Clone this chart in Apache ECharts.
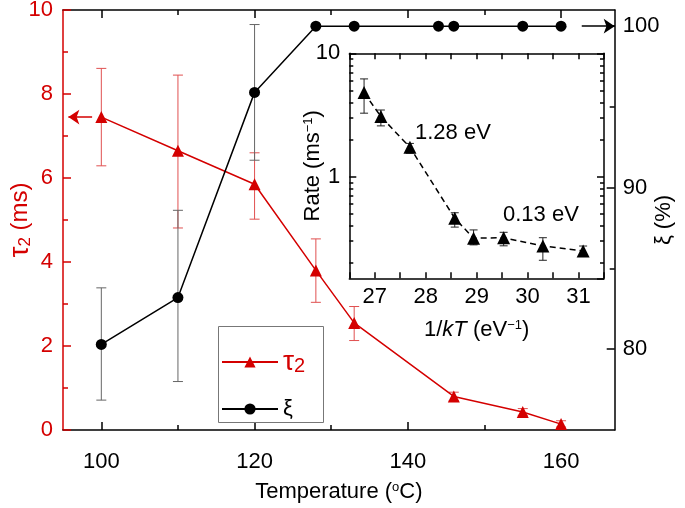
<!DOCTYPE html>
<html><head><meta charset="utf-8">
<script src="https://cdn.jsdelivr.net/npm/echarts@6/dist/echarts.min.js"></script>
<style>html,body{margin:0;padding:0;background:#fff}#c{width:685px;height:508px}</style>
</head><body><div id="c"></div>
<script>
// ---- main plot data ----
const tauTemps = [100, 110, 120, 128, 133, 146, 155, 160];
const tauVals  = [7.45, 6.65, 5.85, 3.8, 2.55, 0.8, 0.43, 0.14];
const tauLow   = [6.29, 4.81, 5.02, 3.04, 2.13, 0.7, 0.35, 0.07];
const tauHigh  = [8.61, 8.45, 6.6, 4.55, 2.94, 0.9, 0.51, 0.22];

const xiTemps = [100, 110, 120, 128, 133, 144, 146, 155, 160];
const xiVals  = [80.3, 83.2, 95.9, 100, 100, 100, 100, 100, 100];
const xiErrTemps = [100, 110, 120];
const xiLow   = [76.85, 78.0, 91.7];
const xiHigh  = [83.8, 88.6, 100.1];

// ---- inset data ----
const invKT    = [26.79, 27.12, 27.69, 28.57, 28.94, 29.53, 30.3, 31.09];
const rate     = [4.8, 3.07, 1.73, 0.46, 0.317, 0.32, 0.274, 0.25];
const rateLow  = [3.27, 2.58, 1.55, 0.39, 0.28, 0.275, 0.21, 0.23];
const rateHigh = [6.2, 3.47, 1.86, 0.51, 0.37, 0.354, 0.32, 0.274];

// ---- tick labels ----
const tempLabels = [100, 120, 140, 160];
const tempMinor  = [110, 130, 150];
const xiLabels   = [80, 90, 100];
const xiMinor    = [85, 95];
const rateMinor  = [0.2,0.3,0.4,0.5,0.6,0.7,0.8,0.9,2,3,4,5,6,7,8,9];

const RED = '#d40000';
const FONT = '"Liberation Sans", Arial, sans-serif';
const FS = 22;

function errRender(color, cap) {
  return function (params, api) {
    const x = api.value(0), lo = api.value(1), hi = api.value(2);
    const a = api.coord([x, lo]), b = api.coord([x, hi]);
    const st = { stroke: color, lineWidth: 1 };
    return { type: 'group', children: [
      { type: 'line', shape: { x1: a[0], y1: a[1], x2: b[0], y2: b[1] }, style: st },
      { type: 'line', shape: { x1: a[0]-cap, y1: a[1], x2: a[0]+cap, y2: a[1] }, style: st },
      { type: 'line', shape: { x1: b[0]-cap, y1: b[1], x2: b[0]+cap, y2: b[1] }, style: st }
    ]};
  };
}

const axLine = (c) => ({ show: true, onZero: false, lineStyle: { color: c || '#000', width: 1.5 } });
const noLine = { show: false, onZero: false };
const tick = (len, c, vals) => {
  const t = { show: true, inside: true, length: len, lineStyle: { color: c || '#000', width: 1.5 } };
  if (vals) t.customValues = vals;
  return t;
};
const lbl = (extra) => Object.assign({ fontFamily: FONT, fontSize: FS, color: '#000' }, extra || {});

const chart = echarts.init(document.getElementById('c'), null, { renderer: 'canvas' });
const option = {
  animation: false,
  backgroundColor: '#fff',
  textStyle: { fontFamily: FONT },
  grid: [
    { left: 63, top: 10, right: 70.3, bottom: 78, outerBoundsMode: 'none', containLabel: false },
    { left: 349.3, top: 53.3, width: 254.7, height: 225, outerBoundsMode: 'none', containLabel: false,
      show: true, backgroundColor: '#fff', borderWidth: 0, z: 5 }
  ],
  xAxis: [
    { // 0 main bottom
      type: 'value', gridIndex: 0, min: 95, max: 167, position: 'bottom',
      axisLine: axLine(), axisTick: tick(8, '#000', tempLabels),
      axisLabel: lbl({ customValues: tempLabels, margin: 21 }), splitLine: { show: false },
      name: 'Temperature ({o|o}C)', nameLocation: 'middle', nameGap: 51, nameMoveOverlap: false,
      nameTextStyle: { fontFamily: FONT, fontSize: FS, color: '#000',
        rich: { o: { fontSize: 13, verticalAlign: 'top', lineHeight: 13 } } }
    },
    { // 1 main bottom minor
      type: 'value', gridIndex: 0, min: 95, max: 167, position: 'bottom',
      axisLine: noLine, axisTick: tick(5, '#000', tempMinor), axisLabel: { show: false }, splitLine: { show: false }
    },
    { // 2 main top
      type: 'value', gridIndex: 0, min: 95, max: 167, position: 'top',
      axisLine: axLine(), axisTick: tick(8, '#000', tempLabels), axisLabel: { show: false }, splitLine: { show: false }
    },
    { // 3 main top minor
      type: 'value', gridIndex: 0, min: 95, max: 167, position: 'top',
      axisLine: noLine, axisTick: tick(5, '#000', tempMinor), axisLabel: { show: false }, splitLine: { show: false }
    },
    { // 4 inset bottom
      type: 'value', gridIndex: 1, min: 26.5, max: 31.5, interval: 0.5, position: 'bottom', z: 10,
      axisLine: axLine(), axisTick: tick(6), splitLine: { show: false },
      axisLabel: lbl({ margin: 8, formatter: v => (Math.abs(v - Math.round(v)) < 1e-6 ? String(Math.round(v)) : '') }),
      name: '1/{i|kT} (eV{s|−1})', nameLocation: 'middle', nameGap: 41, nameMoveOverlap: false,
      nameTextStyle: { fontFamily: FONT, fontSize: FS, color: '#000',
        rich: { i: { fontStyle: 'italic', fontSize: FS }, s: { fontSize: 13, verticalAlign: 'top', lineHeight: 13 } } }
    },
    { // 5 inset top
      type: 'value', gridIndex: 1, min: 26.5, max: 31.5, interval: 0.5, position: 'top', z: 10,
      axisLine: axLine(), axisTick: tick(6), axisLabel: { show: false }, splitLine: { show: false }
    }
  ],
  yAxis: [
    { // 0 tau left
      type: 'value', gridIndex: 0, min: 0, max: 10, interval: 2, position: 'left',
      axisLine: axLine(RED), axisTick: tick(8, RED),
      minorTick: { show: true, splitNumber: 2, length: 5, lineStyle: { color: RED, width: 1.5 } },
      axisLabel: lbl({ color: RED, margin: 10 }), splitLine: { show: false }, minorSplitLine: { show: false },
      name: '{t|τ}{s|2}{n| (ms)}', nameLocation: 'middle', nameGap: 29, nameRotate: 90, nameMoveOverlap: false,
      nameTextStyle: { color: RED, fontFamily: FONT, fontSize: 24,
        rich: { t: { fontSize: 28, color: RED }, s: { fontSize: 17, color: RED, verticalAlign: 'bottom', lineHeight: 12 }, n: { fontSize: 24, color: RED } } }
    },
    { // 1 xi right
      type: 'value', gridIndex: 0, min: 75, max: 101, position: 'right',
      axisLine: axLine(), axisTick: tick(8, '#000', xiLabels),
      axisLabel: lbl({ customValues: xiLabels, margin: 8 }), splitLine: { show: false },
      name: 'ξ (%)', nameLocation: 'middle', nameGap: 38, nameRotate: 90, nameMoveOverlap: false,
      nameTextStyle: { fontFamily: FONT, fontSize: FS, color: '#000' }
    },
    { // 2 xi right minor
      type: 'value', gridIndex: 0, min: 75, max: 101, position: 'right',
      axisLine: noLine, axisTick: tick(5, '#000', xiMinor), axisLabel: { show: false }, splitLine: { show: false }
    },
    { // 3 inset left log
      type: 'log', gridIndex: 1, min: 0.15, max: 10, logBase: 10, position: 'left', z: 10,
      axisLine: axLine(), axisTick: tick(7), splitLine: { show: false },
      axisLabel: lbl({ margin: 9, showMinLabel: false }),
      name: 'Rate (ms{s|−1})', nameLocation: 'middle', nameGap: 25, nameRotate: 90, nameMoveOverlap: false,
      nameTextStyle: { fontFamily: FONT, fontSize: FS, color: '#000',
        rich: { s: { fontSize: 13, verticalAlign: 'top', lineHeight: 13 } } }
    },
    { // 4 inset left minor (log10 space)
      type: 'value', gridIndex: 1, min: Math.log10(0.15), max: 1, position: 'left', z: 10,
      axisLine: noLine, axisTick: tick(4, '#000', rateMinor.map(Math.log10)), axisLabel: { show: false }, splitLine: { show: false }
    },
    { // 5 inset right log
      type: 'log', gridIndex: 1, min: 0.15, max: 10, logBase: 10, position: 'right', z: 10,
      axisLine: axLine(), axisTick: tick(7), axisLabel: { show: false }, splitLine: { show: false }
    },
    { // 6 inset right minor
      type: 'value', gridIndex: 1, min: Math.log10(0.15), max: 1, position: 'right', z: 10,
      axisLine: noLine, axisTick: tick(4, '#000', rateMinor.map(Math.log10)), axisLabel: { show: false }, splitLine: { show: false }
    }
  ],
  legend: {
    left: 218, top: 327, orient: 'vertical',
    itemWidth: 56, itemHeight: 14, itemGap: 22,
    padding: [21, 20, 0, 3],
    borderWidth: 0, backgroundColor: 'transparent', z: 6,
    data: [{ name: 'tau', textStyle: { color: RED } }, { name: 'xi' }],
    formatter: n => (n === 'tau' ? '{t|τ}{s|2}' : '{x|ξ}'),
    textStyle: { fontFamily: FONT, fontSize: FS,
      rich: { t: { fontSize: 28, color: RED }, s: { fontSize: 20, color: RED, verticalAlign: 'bottom', lineHeight: 14 }, x: { fontSize: 22, color: '#000' } } }
  },
  graphic: [
    { type: 'rect', z: 4, shape: { x: 218.5, y: 326.5, width: 105, height: 96 },
      style: { fill: '#fff', stroke: '#777', lineWidth: 1 } },
    { type: 'text', x: 415, y: 133, z: 100, style: { text: '1.28 eV', font: '22px "Liberation Sans", Arial', fill: '#000', verticalAlign: 'middle' } },
    { type: 'text', x: 503, y: 215, z: 100, style: { text: '0.13 eV', font: '22px "Liberation Sans", Arial', fill: '#000', verticalAlign: 'middle' } }
  ],
  series: [
    { type: 'custom', name: 'tauErr', xAxisIndex: 0, yAxisIndex: 0, z: 1, silent: true,
      renderItem: errRender('#e05050', 5), encode: { x: 0, y: [1, 2] },
      data: tauTemps.map((t, i) => [t, tauLow[i], tauHigh[i]]) },
    { type: 'custom', name: 'xiErr', xAxisIndex: 0, yAxisIndex: 1, z: 1, silent: true,
      renderItem: errRender('#666', 5), encode: { x: 0, y: [1, 2] },
      data: xiErrTemps.map((t, i) => [t, xiLow[i], xiHigh[i]]) },
    { type: 'line', name: 'tau', xAxisIndex: 0, yAxisIndex: 0, z: 3,
      data: tauTemps.map((t, i) => [t, tauVals[i]]),
      symbol: 'triangle', symbolSize: 12, showAllSymbol: true,
      itemStyle: { color: RED }, lineStyle: { color: RED, width: 1.5 },
      markLine: { silent: true, symbol: ['none', 'arrow'], symbolSize: 11, label: { show: false },
        lineStyle: { color: RED, width: 1.5, type: 'solid' },
        data: [[{ coord: [98.8, 7.45] }, { coord: [95.7, 7.45] }]] } },
    { type: 'line', name: 'xi', xAxisIndex: 0, yAxisIndex: 1, z: 3,
      data: xiTemps.map((t, i) => [t, xiVals[i]]),
      symbol: 'circle', symbolSize: 11, showAllSymbol: true,
      itemStyle: { color: '#000' }, lineStyle: { color: '#000', width: 1.5 },
      markLine: { silent: true, symbol: ['none', 'arrow'], symbolSize: 11, label: { show: false },
        lineStyle: { color: '#000', width: 1.5, type: 'solid' },
        data: [[{ coord: [162.7, 100] }, { coord: [167, 100] }]] } },
    { type: 'custom', name: 'rateErr', xAxisIndex: 4, yAxisIndex: 3, z: 6, silent: true,
      renderItem: errRender('#222', 4), encode: { x: 0, y: [1, 2] },
      data: invKT.map((v, i) => [v, rateLow[i], rateHigh[i]]) },
    { type: 'line', name: 'rate', xAxisIndex: 4, yAxisIndex: 3, z: 7,
      data: invKT.map((v, i) => [v, rate[i]]),
      symbol: 'triangle', symbolSize: 13, showAllSymbol: true,
      itemStyle: { color: '#000' }, lineStyle: { color: '#000', width: 1.5, type: [6, 4] } }
  ]
};
chart.setOption(option);
</script>
</body></html>
